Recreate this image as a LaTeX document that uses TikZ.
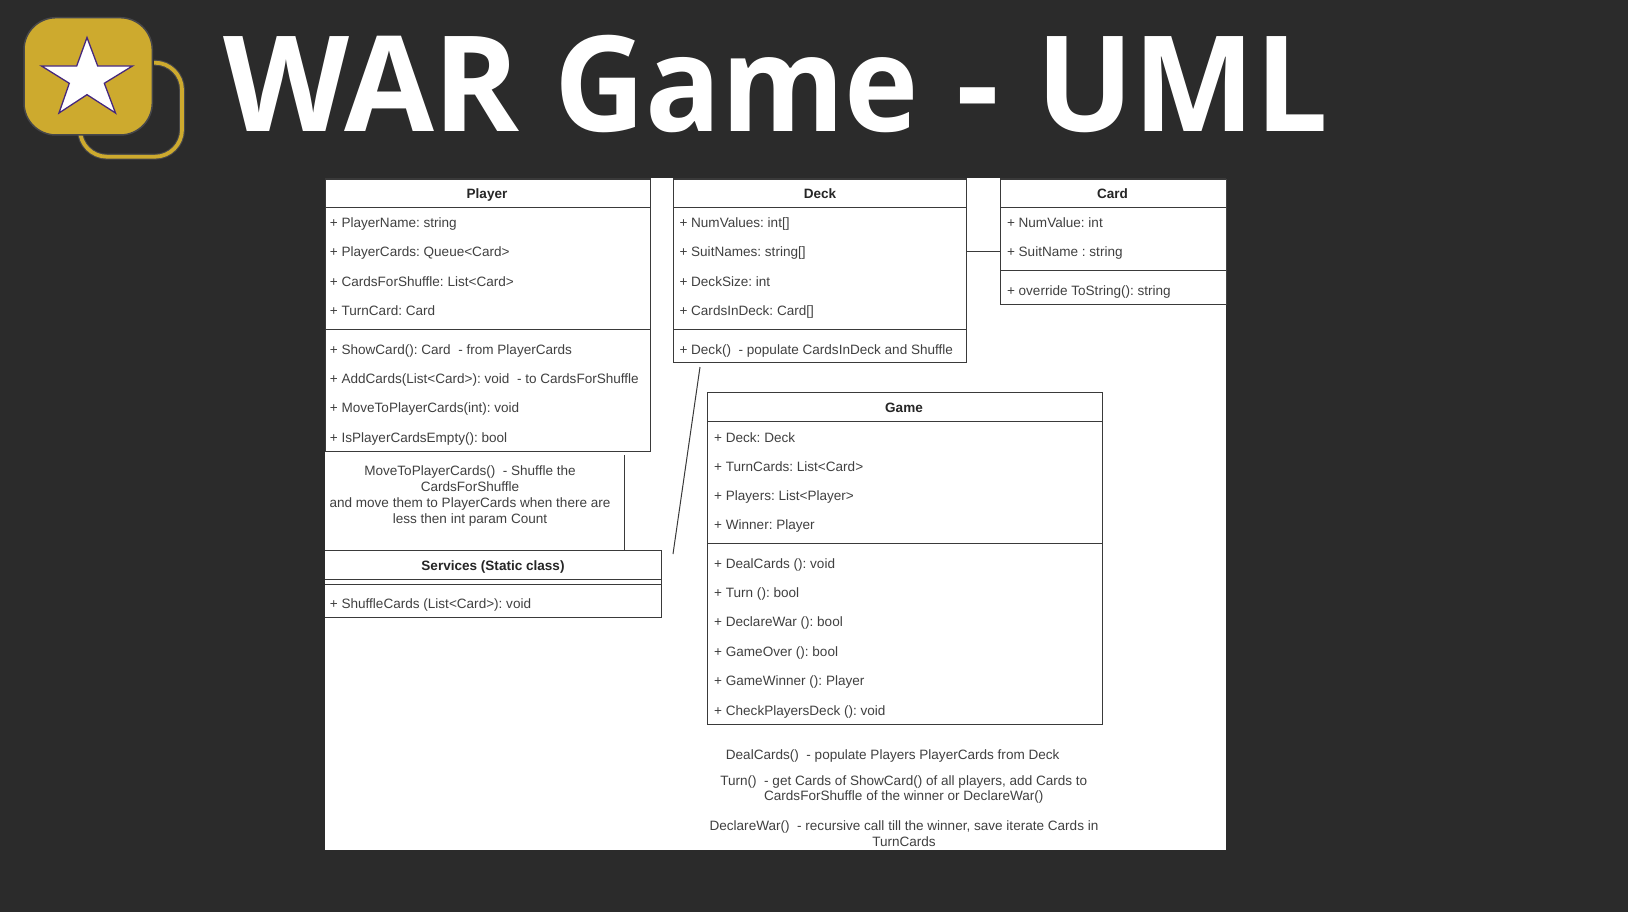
\documentclass[tikz,border=0pt]{standalone}
\usepackage{fontspec}
\usetikzlibrary{fit}
\setmainfont{Liberation Sans}
\newfontfamily\titlefont{Open Sans}
\frenchspacing
\definecolor{bgdark}{HTML}{2B2B2B}
\definecolor{gold}{HTML}{CDAA2E}
\definecolor{halo}{HTML}{47474A}
\definecolor{starline}{HTML}{46287D}
\definecolor{umlline}{HTML}{3A3A3A}
\definecolor{umltext}{HTML}{404040}
\newcommand{\umlbox}[5]{\path (#2,#3) coordinate (#1-nw) (#4,#5) coordinate (#1-se);
  \node[classbox, fit=(#1-nw)(#1-se)] (#1) {};}
\tikzset{
  classbox/.style={draw=umlline, line width=1.2pt, inner sep=0pt, fill=white},
  rule/.style={draw=umlline, line width=1.2pt},
  link/.style={draw=umlline, line width=1pt},
  row/.style={anchor=base west, inner sep=0pt, font=\fontsize{13.55}{15}\selectfont, text=umltext},
  head/.style={anchor=base, inner sep=0pt, font=\fontsize{13.55}{15}\selectfont\bfseries, text=black!85},
  note/.style={anchor=base, inner sep=0pt, font=\fontsize{13.55}{15}\selectfont, text=umltext},
}
\begin{document}
\begin{tikzpicture}[x=1pt,y=-1pt]
\useasboundingbox (0,0) rectangle (1628,912);
\fill[bgdark] (0,0) rectangle (1628,912);

% logo
\draw[halo, line width=6pt, rounded corners=27pt] (154,62.7) -- (182,62.7) -- (182,156.7) -- (80,156.7) -- (80,135);
\draw[gold, line width=3.8pt, rounded corners=27pt] (154,62.7) -- (182,62.7) -- (182,156.7) -- (80,156.7) -- (80,135);
\fill[gold, draw=halo, line width=1.5pt, rounded corners=32pt] (24,17.7) rectangle (152.3,135);
\filldraw[fill=white, draw=starline, line width=1.3pt, line join=miter]
  (87,37.5) -- (97.7,66) -- (132.5,66) -- (104.3,83.3) -- (115.5,113) -- (87,94.7)
  -- (59,113) -- (69.3,83.3) -- (41.5,66) -- (76.7,66) -- cycle;

% title
\node[anchor=base west, inner sep=0pt, text=white, font=\fontsize{133}{133}\selectfont\titlefont\bfseries] (title) at (223,132) {\scalebox{.98}[1]{WAR} \scalebox{.945}[1]{Game}\hspace{3pt} -\hspace{2pt} \scalebox{.97}[1]{UML}};

% panel
\fill[white] (325,178) rectangle (1226,849.5);

% clip boxes to panel
\begin{scope}
\clip (325,178) rectangle (1226,849.5);
\umlbox{player}{325}{179}{650.6}{451.5}
\umlbox{deck}{673.3}{179}{966.6}{362.6}
\umlbox{card}{1000.4}{179}{1227}{304.7}
\umlbox{services}{324}{550.5}{661.6}{617.6}
\umlbox{game}{707.3}{392.7}{1102.3}{724.3}
\draw[rule] (325,207.7) -- (651,207.7) (325,329.5) -- (651,329.5);
\draw[rule] (673.3,207.7) -- (967,207.7) (673.3,329.5) -- (967,329.5);
\draw[rule] (1000.4,207.7) -- (1226,207.7) (1000.4,270.6) -- (1226,270.6);
\draw[rule] (325,579.6) -- (662,579.6) (325,584.5) -- (662,584.5);
\draw[rule] (707.3,421.5) -- (1102.3,421.5) (707.3,543.7) -- (1102.3,543.7);
\end{scope}

% connectors
\coordinate (deckport) at (deck.east |- 0,251.5);
\coordinate (cardport) at (card.west |- 0,251.5);
\draw[link] (deckport) -- (cardport);
\coordinate (noteTop) at (624.7,455);
\coordinate (noteEnd) at (services.north -| 624.7,0);
\draw[link] (noteTop) -- (noteEnd);
\coordinate (slantTop) at (700,367);
\coordinate (slantEnd) at (673,554);
\draw[link] (slantTop) -- (slantEnd);

% Player
\node[head] (ptitle) at (487,198.8) {Player};
\node[row] (p1) at (329.7,227.5) {+ PlayerName: string};
\node[row] (p2) at (329.7,256.8) {+ PlayerCards: Queue<Card>};
\node[row] (p3) at (329.7,286) {+ CardsForShuffle: List<Card>};
\node[row] (p4) at (329.7,315.3) {+ TurnCard: Card};
\node[row] (p5) at (329.7,354.2) {+ ShowCard(): Card\ \ - from PlayerCards};
\node[row] (p6) at (329.7,383.4) {+ AddCards(List<Card>): void\ \ - to CardsForShuffle};
\node[row] (p7) at (329.7,412.7) {+ MoveToPlayerCards(int): void};
\node[row] (p8) at (329.7,442) {+ IsPlayerCardsEmpty(): bool};

% Player note
\node[note] (n1) at (470,475.5) {MoveToPlayerCards()\ \ - Shuffle the};
\node[note] (n2) at (470,491.3) {CardsForShuffle};
\node[note] (n3) at (470,507.3) {and move them to PlayerCards when there are};
\node[note] (n4) at (470,523.3) {less then int param Count};

% Services
\node[head] (stitle) at (493,570.8) {Services (Static class)};
\node[row] (s1) at (329.7,608.8) {+ ShuffleCards (List<Card>): void};

% Deck
\node[head] (dtitle) at (820,198.8) {Deck};
\node[row] (d1) at (679.3,227.5) {+ NumValues: int[]};
\node[row] (d2) at (679.3,256.8) {+ SuitNames: string[]};
\node[row] (d3) at (679.3,286) {+ DeckSize: int};
\node[row] (d4) at (679.3,315.3) {+ CardsInDeck: Card[]};
\node[row] (d5) at (679.3,354.2) {+ Deck()\ \ - populate CardsInDeck and Shuffle};

% Card
\node[head] (ctitle) at (1112.5,198.8) {Card};
\node[row] (c1) at (1006.8,227.5) {+ NumValue: int};
\node[row] (c2) at (1006.8,256.8) {+ SuitName : string};
\node[row] (c3) at (1006.8,295.8) {+ override ToString(): string};

% Game
\node[head] (gtitle) at (904,412.5) {Game};
\node[row] (g1) at (714,442) {+ Deck: Deck};
\node[row] (g2) at (714,471.2) {+ TurnCards: List<Card>};
\node[row] (g3) at (714,500.3) {+ Players: List<Player>};
\node[row] (g4) at (714,529.5) {+ Winner: Player};
\node[row] (g5) at (714,568.1) {+ DealCards (): void};
\node[row] (g6) at (714,597.3) {+ Turn (): bool};
\node[row] (g7) at (714,626.8) {+ DeclareWar (): bool};
\node[row] (g8) at (714,656.2) {+ GameOver (): bool};
\node[row] (g9) at (714,685.4) {+ GameWinner (): Player};
\node[row] (g10) at (714,715) {+ CheckPlayersDeck (): void};

% Game notes
\node[note] (m1) at (892.7,759.3) {DealCards()\ \ - populate Players PlayerCards from Deck};
\node[note] (m2) at (903.8,785) {Turn()\ \ - get Cards of ShowCard() of all players, add Cards to};
\node[note] (m3) at (903.8,800.8) {CardsForShuffle of the winner or DeclareWar()};
\node[note] (m4) at (904,830.5) {DeclareWar()\ \ - recursive call till the winner, save iterate Cards in};
\node[note] (m5) at (904,846) {TurnCards};
\end{tikzpicture}
\end{document}
